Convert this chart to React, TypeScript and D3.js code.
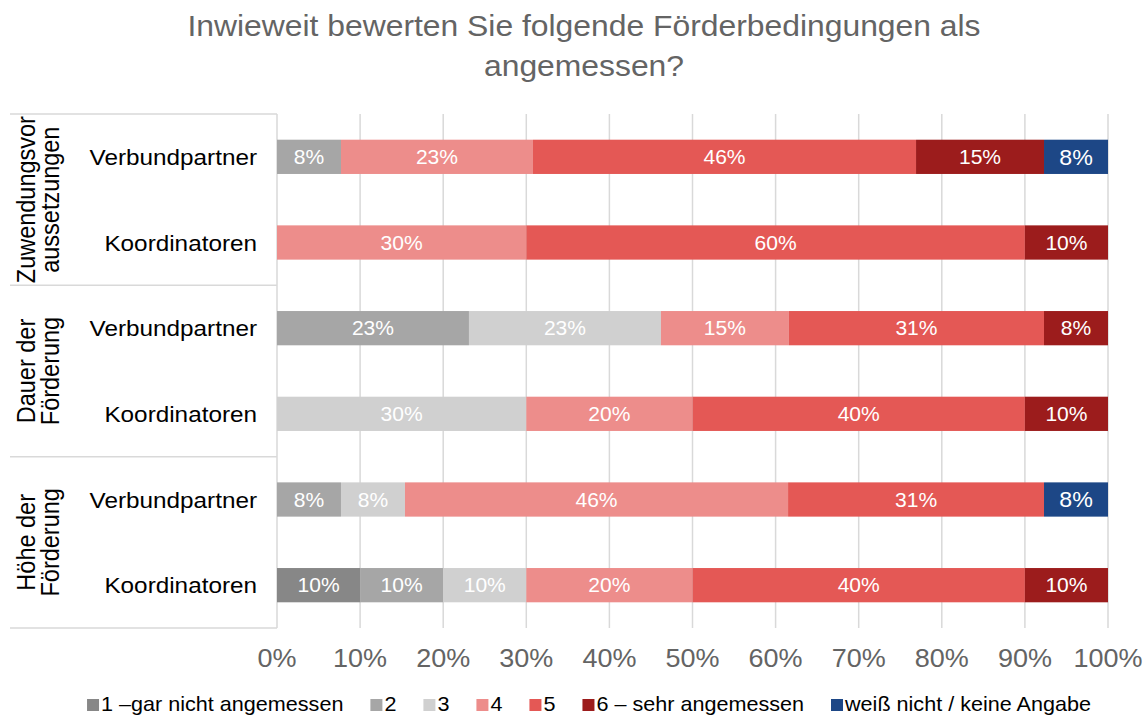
import React, { useEffect, useRef } from "react";
import * as d3 from "d3";

// answer categories (legend order = stack order)
const categories = [
  "1 –gar nicht angemessen",
  "2",
  "3",
  "4",
  "5",
  "6 – sehr angemessen",
  "weiß nicht / keine Angabe",
];
const colors = ["#878787", "#a6a6a6", "#d0d0d0", "#ed8d8b", "#e45855", "#9c1c1c", "#1d4786"];

const groups = [
  ["Zuwendungsvor", "aussetzungen"],
  ["Dauer der", "Förderung"],
  ["Höhe der", "Förderung"],
];
const respondents = ["Verbundpartner", "Koordinatoren"];

// percent shares per row, in category order
const zuwendungVerbund = [0, 7.7, 0, 23.1, 46.1, 15.4, 7.7];
const zuwendungKoord = [0, 0, 0, 30, 60, 10, 0];
const dauerVerbund = [0, 23.1, 23.1, 15.4, 30.7, 7.7, 0];
const dauerKoord = [0, 0, 30, 20, 40, 10, 0];
const hoeheVerbund = [0, 7.7, 7.7, 46.1, 30.8, 0, 7.7];
const hoeheKoord = [10, 10, 10, 20, 40, 10, 0];

const rowValues = [zuwendungVerbund, zuwendungKoord, dauerVerbund, dauerKoord, hoeheVerbund, hoeheKoord];

const xTicks = [0, 10, 20, 30, 40, 50, 60, 70, 80, 90, 100];

// the source renders text a bit wider than Liberation Sans
const SX = 1.08;
const place = (x: number, y: number, rot = 0) =>
  "translate(" + x + "," + y + ") scale(" + SX + ",1)" + (rot ? " rotate(" + rot + ")" : "");

const App = () => {
  const ref = useRef<SVGSVGElement>(null);

  useEffect(() => {
    const width = 1143,
      height = 718,
      left = 277,
      right = 1108,
      top = 114,
      bottom = 628,
      font = "'Liberation Sans', Arial, sans-serif",
      gridColor = "#d9d9d9";

    const svg = d3.select(ref.current);
    svg.selectAll("*").remove();
    svg.attr("width", width).attr("height", height).style("font-family", font);

    const rows = rowValues.map((vals, i) => ({
      id: "r" + i,
      group: Math.floor(i / 2),
      who: respondents[i % 2],
      vals,
    }));

    const x = d3.scaleLinear().domain([0, 100]).range([left, right]);
    const y = d3
      .scaleBand()
      .domain(rows.map(r => r.id))
      .range([top, bottom])
      .paddingInner(0.6)
      .paddingOuter(0.3);
    const g = d3
      .scaleBand()
      .domain(groups.map((_, i) => String(i)))
      .range([top, bottom]);

    // title
    svg
      .append("g")
      .selectAll("text")
      .data(["Inwieweit bewerten Sie folgende Förderbedingungen als", "angemessen?"])
      .enter()
      .append("text")
      .attr("transform", (d, i) => place(584, 36 + i * 40))
      .attr("text-anchor", "middle")
      .attr("fill", "#646464")
      .attr("font-size", 29.5)
      .text(d => d);

    // vertical gridlines
    svg
      .append("g")
      .selectAll("line")
      .data(xTicks)
      .enter()
      .append("line")
      .attr("x1", d => x(d))
      .attr("x2", d => x(d))
      .attr("y1", top)
      .attr("y2", bottom)
      .attr("stroke", gridColor)
      .attr("stroke-width", 1.5);

    // group separators on the category axis
    const bounds = groups.map((_, i) => g(String(i)) as number).concat([bottom]);
    svg
      .append("g")
      .selectAll("line")
      .data(bounds)
      .enter()
      .append("line")
      .attr("x1", 10)
      .attr("x2", left)
      .attr("y1", d => d)
      .attr("y2", d => d)
      .attr("stroke", gridColor)
      .attr("stroke-width", 1.5);

    // stacked bars
    const stack = d3
      .stack<any>()
      .keys(categories.map((_, i) => String(i)))
      .value((d, k) => d.vals[+k]);
    const series = stack(rows);

    const layer = svg
      .append("g")
      .selectAll("g")
      .data(series)
      .enter()
      .append("g")
      .attr("fill", (d, i) => colors[i]);

    layer
      .selectAll("rect")
      .data(d => d.filter(s => s[1] - s[0] > 0))
      .enter()
      .append("rect")
      .attr("x", d => x(d[0]))
      .attr("width", d => x(d[1]) - x(d[0]))
      .attr("y", d => y(d.data.id) as number)
      .attr("height", y.bandwidth());

    layer
      .selectAll("text")
      .data((d, i) => d.filter(s => s[1] - s[0] > 0).map(s => ({ s, i })))
      .enter()
      .append("text")
      .attr("transform", d =>
        place((x(d.s[0]) + x(d.s[1])) / 2, (y(d.s.data.id) as number) + y.bandwidth() / 2)
      )
      .attr("dy", "0.36em")
      .attr("text-anchor", "middle")
      .attr("fill", "#fff")
      .attr("font-size", d => (d.i === 6 ? 21.5 : 19.5))
      .text(d => Math.round(d.s[1] - d.s[0]) + "%");

    // respondent labels
    svg
      .append("g")
      .selectAll("text")
      .data(rows)
      .enter()
      .append("text")
      .attr("transform", d => place(257, (y(d.id) as number) + y.bandwidth() / 2))
      .attr("dy", "0.36em")
      .attr("text-anchor", "end")
      .attr("font-size", 22.5)
      .attr("fill", "#000")
      .text(d => d.who);

    // group labels (rotated)
    groups.forEach((lines, gi) => {
      const cy = (g(String(gi)) as number) + g.bandwidth() / 2;
      lines.forEach((line, li) => {
        svg
          .append("text")
          .attr("transform", place(35 + li * 24, cy, -90))
          .attr("text-anchor", "middle")
          .attr("font-size", 23.5)
          .attr("fill", "#000")
          .text(line);
      });
    });

    // x axis labels
    svg
      .append("g")
      .selectAll("text")
      .data(xTicks)
      .enter()
      .append("text")
      .attr("transform", d => place(x(d), 667))
      .attr("text-anchor", "middle")
      .attr("font-size", 25)
      .attr("fill", "#646464")
      .text(d => d + "%");

    // legend, laid out by measured widths
    const legend = svg.append("g");
    const items = legend
      .selectAll("g")
      .data(categories)
      .enter()
      .append("g");
    items
      .append("rect")
      .attr("width", 12)
      .attr("height", 12)
      .attr("y", 699)
      .attr("fill", (d, i) => colors[i]);
    items
      .append("text")
      .attr("transform", place(14, 711))
      .attr("font-size", 20)
      .attr("fill", "#000")
      .text(d => d);
    let pos = 0;
    const offsets: number[] = [];
    items.each(function () {
      offsets.push(pos);
      const t = d3.select(this).select("text").node() as SVGTextElement;
      pos += 14 + t.getComputedTextLength() * SX + 27;
    });
    const total = pos - 27;
    const start = 589 - total / 2;
    items.attr("transform", (d, i) => "translate(" + (start + offsets[i]) + ",0)");
  }, []);

  return (
    <div style={{ position: "absolute", left: 0, top: 0 }}>
      <svg ref={ref}></svg>
    </div>
  );
};

export default App;
